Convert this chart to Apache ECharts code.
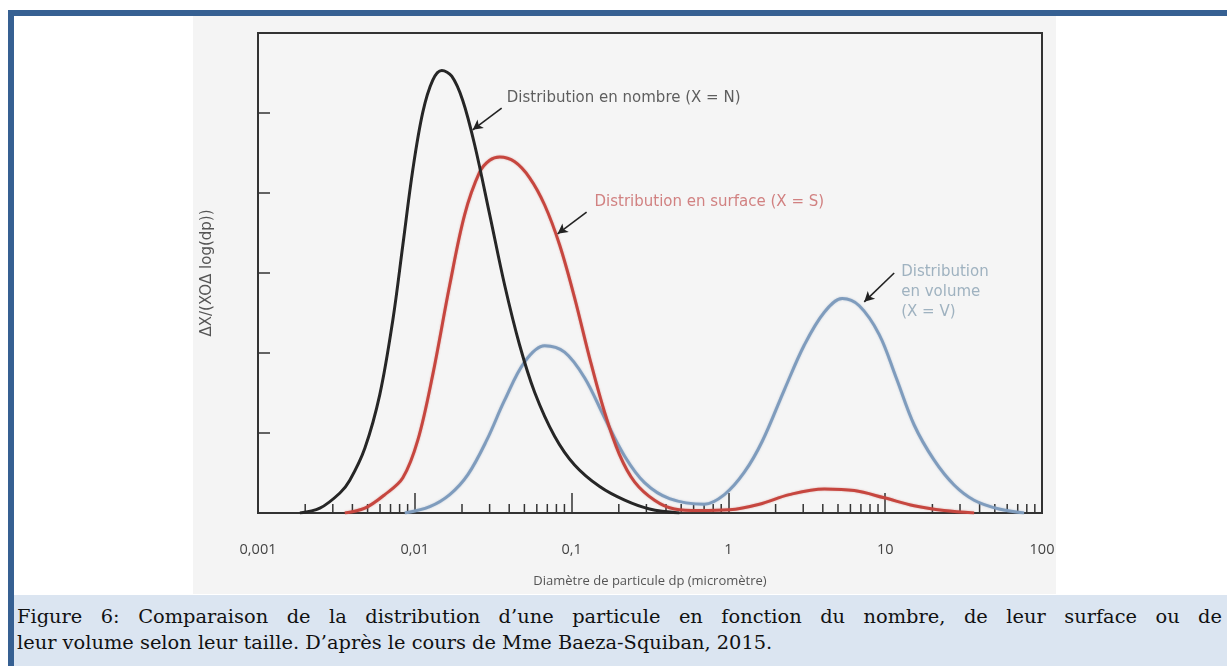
<!DOCTYPE html>
<html>
<head>
<meta charset="utf-8">
<title>Distribution granulométrique</title>
<script src="https://cdn.jsdelivr.net/npm/echarts@6/dist/echarts.min.js"></script>
<style>
body{margin:0;background:#fff;}
.page{position:relative;width:1227px;height:666px;overflow:hidden;background:#fff;}
.bord-top{position:absolute;left:8px;top:10px;width:1219px;height:6px;background:#366092;}
.bord-left{position:absolute;left:8px;top:10px;width:6px;height:656px;background:#366092;}
.figbox{position:absolute;left:193px;top:16px;width:863px;height:578px;background:#f4f4f4;}
#myChart{position:absolute;left:0;top:0;width:1227px;height:666px;}
.caption{position:absolute;left:14px;top:595px;width:1213px;height:71px;background:#dbe5f1;
  font-family:"DejaVu Serif",serif;font-size:19.4px;color:#111;}
.caption div{position:absolute;left:3px;width:1205px;line-height:26px;}
.l1{top:9px;text-align:justify;text-align-last:justify;}
.l2{top:35px;text-align:left;}
</style>
</head>
<body>
<div class="page">
    <div class="figbox"></div>
    <div id="myChart"></div>
    <div class="bord-top"></div>
    <div class="bord-left"></div>
    <div class="caption">
        <div class="l1">Figure 6: Comparaison de la distribution d’une particule en fonction du nombre, de leur surface ou de</div>
        <div class="l2">leur volume selon leur taille. D’après le cours de Mme Baeza-Squiban, 2015.</div>
    </div>
</div>
<script>
// diamètres (µm) et valeurs
var diamN = [0.00185, 0.00248, 0.00333, 0.00385, 0.0048, 0.00598, 0.00724, 0.00839, 0.00971, 0.01125, 0.01302, 0.01486, 0.0172, 0.0202, 0.0241, 0.03004, 0.0374, 0.0466, 0.0581, 0.0779, 0.1045, 0.151, 0.218, 0.314, 0.487];
var valN  = [0, 0.06, 0.25, 0.41, 0.81, 1.48, 2.41, 3.35, 4.29, 5.01, 5.41, 5.53, 5.46, 5.16, 4.6, 3.73, 2.85, 2.1, 1.51, 0.96, 0.6, 0.33, 0.16, 0.05, 0];

var diamS = [0.00358, 0.0048, 0.00644, 0.00839, 0.01045, 0.01302, 0.0167, 0.0208, 0.0259, 0.03004, 0.0348, 0.0434, 0.054, 0.0673, 0.0839, 0.1045, 0.1302, 0.1623, 0.202, 0.252, 0.338, 0.453, 0.653, 1.015, 1.576, 2.447, 4.088, 6.35, 9.85, 15.3, 23.76, 36.9];
var valS  = [0, 0.06, 0.23, 0.44, 0.91, 1.73, 2.85, 3.73, 4.26, 4.41, 4.45, 4.39, 4.19, 3.85, 3.35, 2.69, 1.94, 1.26, 0.73, 0.39, 0.16, 0.05, 0.03, 0.04, 0.11, 0.23, 0.3, 0.28, 0.19, 0.09, 0.03, 0];

var diamV = [0.00864, 0.01246, 0.0167, 0.0218, 0.02875, 0.0374, 0.0502, 0.0673, 0.0902, 0.121, 0.1623, 0.218, 0.2917, 0.421, 0.703, 0.943, 1.264, 1.647, 2.274, 3.049, 4.088, 5.322, 6.83, 9.16, 11.75, 15.3, 20.52, 27.5, 36.9, 53.2, 76.8];
var valV  = [0, 0.08, 0.23, 0.48, 0.91, 1.41, 1.89, 2.09, 2.01, 1.69, 1.19, 0.71, 0.38, 0.18, 0.11, 0.23, 0.51, 0.9, 1.54, 2.1, 2.51, 2.68, 2.59, 2.23, 1.69, 1.1, 0.66, 0.35, 0.16, 0.05, 0];

var decades = [0.001, 0.01, 0.1, 1, 10];

// annotations
var noteText = ['Distribution en nombre (X = N)', 'Distribution en surface (X = S)', 'Distribution\nen volume\n(X = V)'];
var noteX = [0.0386, 0.14, 12.65];
var noteY = [5.19, 3.89, 2.76];
var arrowFrom = [[0.0358, 5.06], [0.1246, 3.76], [11.41, 3.0]];
var arrowTo = [[0.0234, 4.79], [0.0814, 3.49], [7.35, 2.64]];

function pairs(xs, ys){
    var out = [];
    for (var i = 0; i < xs.length; i++) out.push([xs[i], ys[i]]);
    return out;
}

var minorTicks = [];
decades.forEach(function(d){
    for (var k = 2; k <= 9; k++) minorTicks.push([+(k * d).toPrecision(3), 0]);
});

var myChart = echarts.init(document.getElementById('myChart'), null, {renderer: 'canvas'});
var txtFont = '"Open Sans", sans-serif';
var noteFont = '"DejaVu Sans", sans-serif';
var noteColors = ['#383838', '#c86464', '#8aa1b3'];

var option = {
    animation: false,
    backgroundColor: 'transparent',
    grid: {
        left: 258, top: 33, width: 784, height: 480,
        show: true,
        backgroundColor: '#f5f5f5',
        borderColor: '#333',
        borderWidth: 2
    },
    xAxis: {
        type: 'log',
        logBase: 10,
        min: 0.001,
        max: 100,
        name: 'Diamètre de particule dp (micromètre)',
        nameLocation: 'middle',
        nameGap: 62,
        nameTextStyle: {color: '#555', fontSize: 13, fontFamily: txtFont},
        axisLine: {show: true, lineStyle: {color: '#333', width: 2}},
        axisTick: {show: true, inside: true, length: 20, lineStyle: {color: '#333', width: 1.5}},
        minorTick: {show: false},
        splitLine: {show: false},
        axisLabel: {
            margin: 29,
            color: '#444',
            fontSize: 14.5,
            fontFamily: txtFont,
            formatter: function (v) { return String(+(+v).toPrecision(6)).replace('.', ','); }
        }
    },
    yAxis: {
        type: 'value',
        min: 0,
        max: 6,
        interval: 1,
        name: 'ΔX/(XOΔ log(dp))',
        nameLocation: 'middle',
        nameRotate: 90,
        nameGap: 43,
        nameTextStyle: {color: '#555', fontSize: 15, fontFamily: noteFont},
        axisLine: {show: true, lineStyle: {color: '#333', width: 2}},
        axisTick: {show: true, inside: true, length: 12, lineStyle: {color: '#333', width: 1.5}},
        axisLabel: {show: false},
        splitLine: {show: false}
    },
    series: [
        {
            name: 'minor',
            type: 'custom',
            silent: true,
            encode: {x: 0, y: 1},
            data: minorTicks,
            z: 1,
            renderItem: function (params, api) {
                var p = api.coord([api.value(0), 0]);
                return {
                    type: 'line',
                    shape: {x1: p[0], y1: p[1], x2: p[0], y2: p[1] - 9},
                    style: {stroke: '#333', lineWidth: 1.5}
                };
            }
        },
        {
            name: 'Volume', type: 'line', smooth: 0.35, showSymbol: false,
            data: pairs(diamV, valV), z: 3,
            lineStyle: {color: '#7f9cbd', width: 3, shadowColor: 'rgba(127,156,189,0.5)', shadowBlur: 2}
        },
        {
            name: 'Surface', type: 'line', smooth: 0.35, showSymbol: false,
            data: pairs(diamS, valS), z: 4,
            lineStyle: {color: '#c6463f', width: 3, shadowColor: 'rgba(200,80,70,0.45)', shadowBlur: 2}
        },
        {
            name: 'Nombre', type: 'line', smooth: 0.35, showSymbol: false,
            data: pairs(diamN, valN), z: 5,
            lineStyle: {color: '#262626', width: 3}
        },
        {
            name: 'notes', type: 'scatter', symbolSize: 0, silent: true, z: 6,
            data: noteText.map(function (t, i) {
                return {
                    value: [noteX[i], noteY[i]],
                    label: {
                        show: true, formatter: t, position: 'right', distance: 0,
                        color: noteColors[i], fontSize: 15, lineHeight: 20, fontFamily: noteFont
                    }
                };
            }),
            markLine: {
                silent: true,
                symbol: ['none', 'arrow'],
                symbolSize: [8, 10],
                label: {show: false},
                lineStyle: {color: '#222', width: 1.6, type: 'solid'},
                data: arrowFrom.map(function (a, i) {
                    return [{coord: a}, {coord: arrowTo[i]}];
                })
            }
        }
    ]
};
myChart.setOption(option);
window.onresize = myChart.resize;
</script>
</body>
</html>
